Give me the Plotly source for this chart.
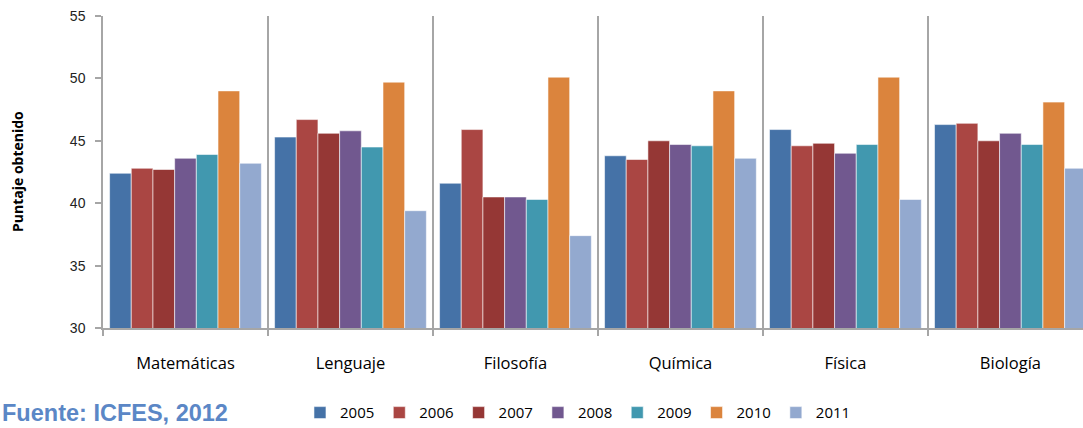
import plotly.graph_objects as go

areas = ["Matemáticas", "Lenguaje", "Filosofía", "Química", "Física", "Biología"]
years = ["2005", "2006", "2007", "2008", "2009", "2010", "2011"]

y2005 = [42.4, 45.3, 41.6, 43.8, 45.9, 46.3]
y2006 = [42.8, 46.7, 45.9, 43.5, 44.6, 46.4]
y2007 = [42.7, 45.6, 40.5, 45.0, 44.8, 45.0]
y2008 = [43.6, 45.8, 40.5, 44.7, 44.0, 45.6]
y2009 = [43.9, 44.5, 40.3, 44.6, 44.7, 44.7]
y2010 = [49.0, 49.7, 50.1, 49.0, 50.1, 48.1]
y2011 = [43.2, 39.4, 37.4, 43.6, 40.3, 42.8]

series = [y2005, y2006, y2007, y2008, y2009, y2010, y2011]
colors = ["#4572A7", "#AA4643", "#953735", "#71588F", "#4198AF", "#DB843D", "#93A9CF"]

fig = go.Figure()
for year, vals, col in zip(years, series, colors):
    fig.add_trace(go.Bar(
        x=areas, y=vals, name=year,
        marker=dict(color=col, line=dict(color="rgba(255,255,255,0.7)", width=0.8)),
    ))

grid = "#A6A6A6"
fig.update_layout(
    width=1083, height=428,
    margin=dict(l=103, r=0, t=16, b=100, autoexpand=False),
    paper_bgcolor="white", plot_bgcolor="white",
    barmode="group", bargap=0.08, bargroupgap=0,
    font=dict(family="Open Sans, Arial, sans-serif", size=14, color="#000000"),
    showlegend=True,
    legend=dict(
        orientation="h", x=0.201, xanchor="left", y=-0.272, yanchor="middle",
        font=dict(size=15, family="Open Sans, sans-serif"),
        itemwidth=30, traceorder="normal", bgcolor="rgba(0,0,0,0)",
    ),
    xaxis=dict(
        type="category", tickson="boundaries", automargin=False,
        range=[-0.5, 5.44],
        showgrid=True, gridcolor=grid, gridwidth=1.5,
        showline=True, linecolor=grid, linewidth=1.5,
        ticks="outside", ticklen=6, tickcolor=grid, tickwidth=1.5,
        tickfont=dict(size=16.5), ticklabelstandoff=19,
    ),
    yaxis=dict(
        range=[30, 55], dtick=5, automargin=False,
        showgrid=False, zeroline=False,
        showline=True, linecolor=grid, linewidth=1.5,
        ticks="outside", ticklen=6, tickcolor=grid, tickwidth=1.5,
        tickfont=dict(size=14, family="Liberation Sans, Arial, sans-serif", color="#222222"),
        ticklabelstandoff=7,
    ),
)

fig.add_annotation(
    text="<b>Puntaje obtenido</b>", xref="paper", yref="paper",
    x=-86 / 980, xanchor="center", y=0.5, yanchor="middle", textangle=-90,
    showarrow=False, font=dict(size=14, family="Open Sans, Arial, sans-serif", color="#000000"),
)

fig.add_annotation(
    text="<b>Fuente: ICFES, 2012</b>", xref="paper", yref="paper",
    x=-103 / 980, xanchor="left", y=-0.272, yanchor="middle", showarrow=False,
    font=dict(size=23.5, color="#5B87C6", family="Liberation Sans, Arial, sans-serif"),
)

# drop the default body margin so the figure sits at the window's top-left corner
fig.write_html("out.html", config={"displayModeBar": False},
               post_script="document.body.style.margin='0';")
